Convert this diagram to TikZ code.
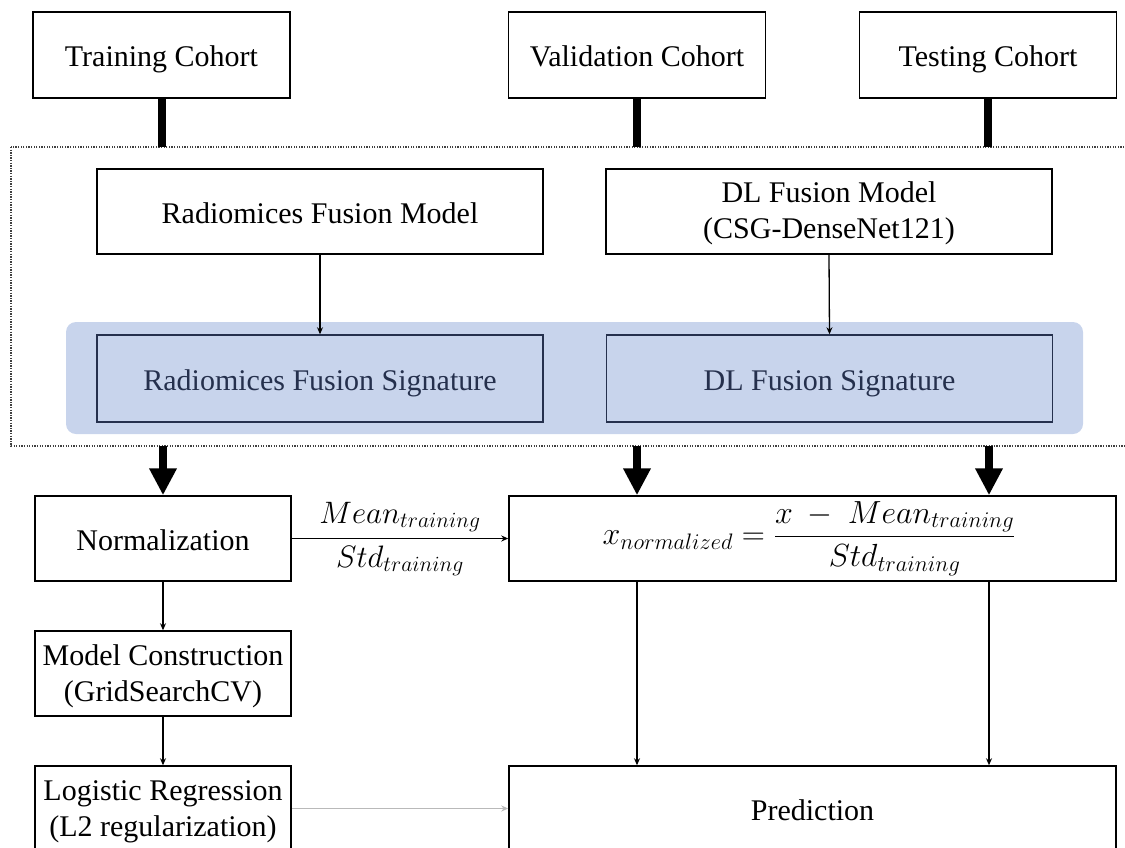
\RequirePackage{fix-cm}
\documentclass[tikz,border=0pt]{standalone}
\usepackage{amsmath}
\usepackage{fontspec}
\setmainfont{Liberation Serif}
\usetikzlibrary{arrows.meta}
\definecolor{sigblue}{HTML}{C8D4EC}
\definecolor{sigtext}{HTML}{25304D}
\definecolor{dotgray}{HTML}{404040}
\begin{document}
\begin{tikzpicture}[x=1pt,y=-1pt,
  box/.style={draw=black, line width=1.5pt, rectangle, inner sep=0pt, fill=white,
    font=\fontsize{30}{36}\selectfont, align=center},
  oneline/.style={text height=23pt, text depth=0pt},
  boxtext/.style={inner sep=0pt, font=\fontsize{30}{36}\selectfont, align=center},
  sigbox/.style={box, oneline, draw=sigtext, text=sigtext, fill=none},
  thinarrow/.style={line width=1.3pt, -{Stealth[length=7pt,width=6pt]}},
  fatarrow/.style={line width=8pt, -{Triangle[length=27pt,width=26pt]}},
  fatbar/.style={line width=8pt},
  mathlbl/.style={font=\fontsize{31}{34}\selectfont, inner sep=0pt}
]
\useasboundingbox (0,0) rectangle (1125,847);
\clip (0,0) rectangle (1125,847);

% cohorts
\node[box, oneline, minimum width=257pt, minimum height=86pt] (train) at (161.5,55) {Training Cohort};
\node[box, oneline, minimum width=257pt, minimum height=86pt] (valid) at (637,55) {Validation Cohort};
\node[box, oneline, minimum width=257pt, minimum height=86pt] (test)  at (988,55) {Testing Cohort};

% dotted frame
\draw[dotgray, line width=1.3pt, dash pattern=on 1.3pt off 1.3pt] (11,147) rectangle (1150,446);
\coordinate (t1) at (161.5,147);
\coordinate (t2) at (637,147);
\coordinate (t3) at (988,147);
\draw[fatbar] (train.south) -- (t1);
\draw[fatbar] (valid.south) -- (t2);
\draw[fatbar] (test.south) -- (t3);

% models
\node[box, oneline, minimum width=446pt, minimum height=85pt] (rmodel) at (320,211.5) {Radiomices Fusion Model};
\node[box, minimum width=446pt, minimum height=85pt] (dlmodel) at (829,211.5) {};
\node[boxtext] (dlmodeltxt) at ([yshift=-2pt]dlmodel.center) {DL Fusion Model\\(CSG-DenseNet121)};

% signatures band
\node[fill=sigblue, rounded corners=10pt, minimum width=1017pt, minimum height=112pt, inner sep=0pt] (band) at (574.5,378) {};
\node[sigbox, minimum width=446pt, minimum height=87pt] (rsig) at (320,378.5) {Radiomices Fusion Signature};
\node[sigbox, minimum width=446pt, minimum height=87pt] (dlsig) at (829.5,378.5) {DL Fusion Signature};

\draw[thinarrow] (rmodel.south) -- (rsig.north);
\draw[thinarrow] (dlmodel.south) -- (dlsig.north);

% lower part
\node[box, oneline, minimum width=256pt, minimum height=85pt] (norm) at (163,538.5) {Normalization};
\node[box, minimum width=607pt, minimum height=85pt] (formula) at (812.5,538.5)
  {\fontsize{32}{36}\selectfont$x_{normalized} = \dfrac{x\ -\ Mean_{training}}{Std_{training}}$\hspace*{7pt}};
\node[box, minimum width=256pt, minimum height=85pt] (mc) at (163,673.5) {};
\node[boxtext] (mctxt) at ([yshift=-3pt]mc.center) {Model Construction\\(GridSearchCV)};
\node[box, minimum width=256pt, minimum height=85pt] (lr) at (163,808.5) {};
\node[boxtext] (lrtxt) at ([yshift=-3pt]lr.center) {Logistic Regression\\(L2 regularization)};
\node[box, oneline, minimum width=607pt, minimum height=85pt] (pred) at (812.5,808.5) {Prediction};

\coordinate (a1) at (163,446);
\coordinate (a2) at (637,446);
\coordinate (a3) at (989,446);
\draw[fatarrow] (a1) -- (norm.north);
\draw[fatarrow] (a2) -- (a2 |- formula.north);
\draw[fatarrow] (a3) -- (a3 |- formula.north);

\draw[thinarrow] (norm.east) -- (formula.west);
\node[mathlbl] (meanlbl) at (400,517) {$Mean_{training}$};
\node[mathlbl] (stdlbl) at (400,561) {$Std_{training}$};

\draw[thinarrow] (norm.south) -- (mc.north);
\draw[thinarrow] (mc.south) -- (lr.north);
\draw[thinarrow, draw=gray!55] (lr.east) -- (pred.west);
\draw[thinarrow] (formula.south -| a2) -- (pred.north -| a2);
\draw[thinarrow] (formula.south -| a3) -- (pred.north -| a3);
\end{tikzpicture}
\end{document}
